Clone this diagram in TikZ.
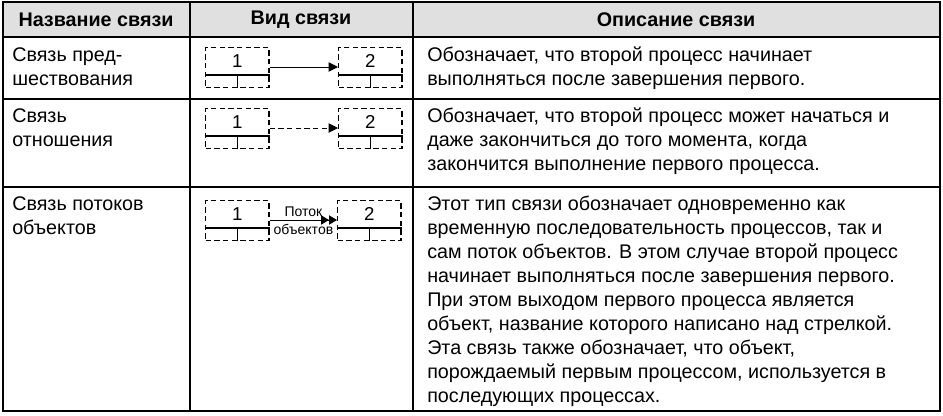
\documentclass[tikz,border=0pt]{standalone}
\usepackage{fontspec}
\setmainfont{Liberation Sans}
\usetikzlibrary{arrows.meta}
\tikzset{
  cell/.style={anchor=north west, align=left, inner sep=0pt, font=\fontsize{14.8}{18}\selectfont},
  head/.style={font=\fontsize{14.8}{18}\selectfont\bfseries},
  proc/.style={draw, dash pattern=on 4pt off 2.5pt, line width=1.1pt, minimum width=47.5pt, minimum height=30pt, inner sep=0pt},
  link/.style={-{Triangle[length=7pt,width=7pt]}, line width=0.7pt},
  num/.style={font=\fontsize{14}{16}\selectfont},
}
\newcommand{\procbox}[3]{% name, x, y (top-left, px)
  \node[proc, anchor=north west] (#1) at (#2,#3) {};
  \draw[line width=1.1pt] ([yshift=10pt]#1.south west) -- ([yshift=10pt]#1.south east);
  \draw[line width=1.1pt] ([yshift=10pt]#1.south) -- (#1.south);
}
\begin{document}
\begin{tikzpicture}[x=0.75pt,y=-0.75pt]
    \useasboundingbox (0,0) rectangle (943,415);
    \fill[black!12] (3,2) rectangle (940,37);
    % table grid
    \draw[line width=1.2pt] (3,2) rectangle (940,411);
    \foreach \yy in {37,99,187} \draw[line width=1.2pt] (3,\yy) -- (940,\yy);
    \foreach \xx in {190,413} \draw[line width=1.2pt] (\xx,2) -- (\xx,411);
    % header
    \node[head] at (96,19.5) {Название связи};
    \node[head] at (301,19.5) {Вид связи};
    \node[head] at (676,19.5) {Описание связи};
    % row 1
    \node[cell] at (12,47) {Связь пред-\\шествования};
    \procbox{a1}{205}{47}
    \procbox{b1}{338}{47}
    \node[num] at ([yshift=5pt]a1.center) {1};
    \node[num] at ([yshift=5pt]b1.center) {2};
    \draw[link] (a1.east |- 0,67) -- (b1.west |- 0,67);
    \node[cell] at (427,47) {Обозначает, что второй процесс начинает\\выполняться после завершения первого.};
    % row 2
    \node[cell] at (12,108) {Связь\\отношения};
    \procbox{a2}{205}{108}
    \procbox{b2}{338}{108}
    \node[num] at ([yshift=5pt]a2.center) {1};
    \node[num] at ([yshift=5pt]b2.center) {2};
    \draw[link, dash pattern=on 4pt off 2.5pt] (a2.east |- 0,128) -- (b2.west |- 0,128);
    \node[cell] at (427,108) {Обозначает, что второй процесс может начаться и\\даже закончиться до того момента, когда\\закончится выполнение первого процесса.};
    % row 3
    \node[cell] at (12,196) {Связь потоков\\объектов};
    \procbox{a3}{205}{200}
    \procbox{b3}{337}{200}
    \node[num] at ([yshift=5pt]a3.center) {1};
    \node[num] at ([yshift=5pt]b3.center) {2};
    \draw[-{Triangle[length=6pt,width=7pt]Triangle[length=6pt,width=7pt]}, line width=0.7pt] (a3.east |- 0,220) -- (b3.west |- 0,220) node[midway, above=2pt, font=\fontsize{10.5}{12}\selectfont, inner sep=0pt] {Поток} node[midway, below=3pt, font=\fontsize{10.5}{12}\selectfont, inner sep=0pt] {объектов};
    \node[cell] at (427,196) {Этот тип связи обозначает одновременно как\\временную последовательность процессов, так и\\сам поток объектов. В этом случае второй процесс\\начинает выполняться после завершения первого.\\При этом выходом первого процесса является\\объект, название которого написано над стрелкой.\\Эта связь также обозначает, что объект,\\порождаемый первым процессом, используется в\\последующих процессах.};
\end{tikzpicture}
\end{document}
